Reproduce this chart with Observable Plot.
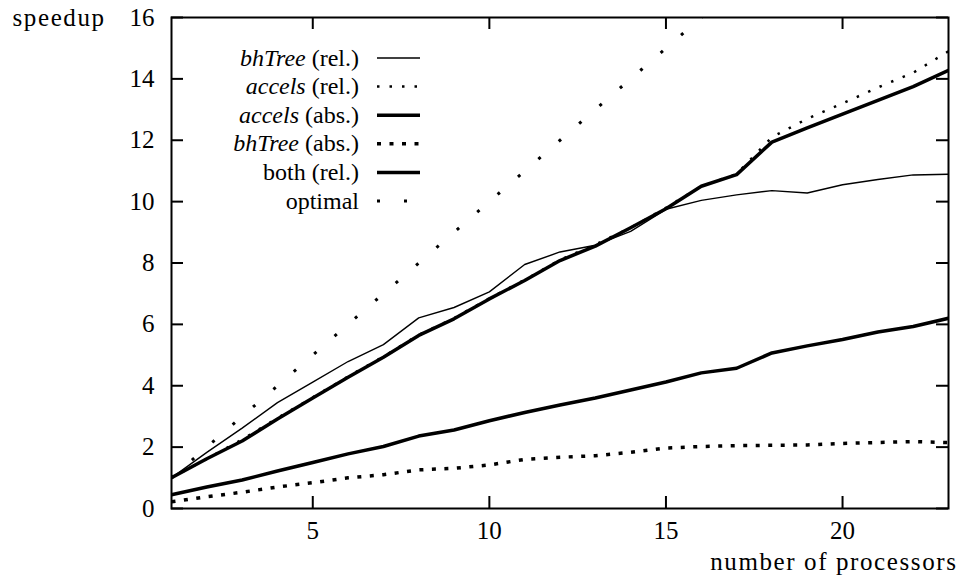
<!DOCTYPE html>
<html><head><meta charset="utf-8">
<script src="https://cdn.jsdelivr.net/npm/d3@7"></script>
<script src="https://cdn.jsdelivr.net/npm/@observablehq/plot@0.6"></script>
<style>
html,body{margin:0;padding:0;background:#fff;}
#wrap{position:relative;width:959px;height:577px;}
#legend{position:absolute;left:0;top:0;pointer-events:none;}
svg text{font-family:"Liberation Serif","DejaVu Serif","Times New Roman",Times,serif !important;}
</style></head><body><div id="wrap"></div>
<script>
const procs     = [1,2,3,4,5,6,7,8,9,10,11,12,13,14,15,16,17,18,19,20,21,22,23];
const bhTreeRel = [1,1.83,2.62,3.45,4.12,4.79,5.34,6.21,6.55,7.06,7.95,8.36,8.58,9.03,9.75,10.04,10.22,10.36,10.28,10.55,10.72,10.87,10.89];
const accelsRel = [1,1.62,2.25,2.95,3.62,4.3,4.95,5.66,6.2,6.85,7.45,8.1,8.6,9.15,9.8,10.5,10.9,12.1,12.7,13.2,13.72,14.2,14.9];
const accelsAbs = [0.45,0.7,0.93,1.22,1.5,1.78,2.02,2.36,2.56,2.86,3.13,3.37,3.6,3.86,4.12,4.42,4.57,5.07,5.3,5.51,5.75,5.93,6.2];
const bhTreeAbs = [0.22,0.38,0.53,0.7,0.84,1.0,1.1,1.26,1.31,1.42,1.6,1.67,1.72,1.83,1.97,2.02,2.05,2.06,2.07,2.12,2.15,2.18,2.15];
const bothRel   = [1,1.62,2.2,2.92,3.6,4.28,4.93,5.64,6.18,6.83,7.43,8.08,8.55,9.15,9.77,10.5,10.88,11.94,12.4,12.85,13.3,13.75,14.28];
const optimal   = [1,2,3,4,5,6,7,8,9,10,11,12,13,14,15,16,17,18,19,20,21,22,23];
const xTicks = [5,10,15,20];
const yTicks = [0,2,4,6,8,10,12,14,16];
const yLabel = "speedup";
const xLabel = "number of processors";
const legendItems = [
  {it:"bhTree", rest:" (rel.)", key:"bhTreeRel"},
  {it:"accels", rest:" (rel.)", key:"accelsRel"},
  {it:"accels", rest:" (abs.)", key:"accelsAbs"},
  {it:"bhTree", rest:" (abs.)", key:"bhTreeAbs"},
  {it:"", rest:"both (rel.)", key:"bothRel"},
  {it:"", rest:"optimal", key:"optimal"}
];

const W=959,H=577,mL=171,mR=11,mT=17,mB=69;
const pw=W-mL-mR, ph=H-mT-mB;
const FONT='"Liberation Serif","DejaVu Serif","Times New Roman",Times,serif';
const styles = {
  bhTreeRel:{strokeWidth:1.4},
  accelsRel:{strokeWidth:2.5,strokeDasharray:"2.5,10",strokeLinecap:"butt"},
  accelsAbs:{strokeWidth:3.5},
  bhTreeAbs:{strokeWidth:3.5,strokeDasharray:"4,8.5",strokeLinecap:"butt"},
  bothRel:{strokeWidth:3.5},
  optimal:{strokeWidth:3,strokeDasharray:"3,24",strokeLinecap:"butt"}
};
const seriesData = {bhTreeRel,accelsRel,accelsAbs,bhTreeAbs,bothRel,optimal};
const rows = vals => procs.map((p,i)=>({p, v:vals[i]}));
const order = ["bhTreeRel","accelsRel","accelsAbs","bhTreeAbs","bothRel","optimal"];

const chart = Plot.plot({
  width:W, height:H, marginLeft:mL, marginRight:mR, marginTop:mT, marginBottom:mB,
  x:{domain:[1,23]}, y:{domain:[0,16]},
  style:{fontFamily:FONT, fontSize:"25px", background:"#fff", color:"#000"},
  marks:[
    ...order.map(k => Plot.line(rows(seriesData[k]), {x:"p", y:"v", stroke:"#000", clip:true, ...styles[k]})),
    Plot.ruleY(yTicks, {y:d=>d, insetRight:pw-12, strokeWidth:2}),
    Plot.ruleY(yTicks, {y:d=>d, insetLeft:pw-12, strokeWidth:2}),
    Plot.ruleX(xTicks, {x:d=>d, insetTop:ph-12, strokeWidth:2}),
    Plot.ruleX(xTicks, {x:d=>d, insetBottom:ph-12, strokeWidth:2}),
    Plot.frame({strokeWidth:2}),
    Plot.axisX({ticks:xTicks, tickSize:0, tickPadding:13, fontSize:25, label:null}),
    Plot.axisY({ticks:yTicks, tickSize:0, tickPadding:17, fontSize:25, label:null}),
    Plot.text([yLabel], {frameAnchor:"top-left", text:d=>d, dx:-159, textAnchor:"start", lineAnchor:"middle", fontSize:25}),
    Plot.text([xLabel], {frameAnchor:"bottom-right", text:d=>d, dx:9, dy:53, textAnchor:"end", lineAnchor:"middle", fontSize:25})
  ]
});
document.getElementById("wrap").appendChild(chart);
d3.select(chart).selectAll("text").filter(function(){ const s=this.textContent; return s===yLabel || s===xLabel; })
  .style("letter-spacing","1.6px");

// legend overlay
const lg = d3.select("#wrap").append("svg").attr("id","legend").attr("width",W).attr("height",H);
legendItems.forEach((d,i)=>{
  const y = 58 + i*28.6;
  const t = lg.append("text").attr("x",359).attr("y",y).attr("dy","0.32em")
    .attr("text-anchor","end").attr("font-family",FONT).attr("font-size",24);
  if (d.it) t.append("tspan").attr("font-style","italic").text(d.it);
  t.append("tspan").text(d.rest);
  const s = styles[d.key];
  lg.append("line").attr("x1",377).attr("x2",420).attr("y1",y).attr("y2",y)
    .attr("stroke","#000").attr("stroke-width",s.strokeWidth)
    .attr("stroke-dasharray",s.strokeDasharray||null)
    .attr("stroke-linecap",s.strokeLinecap||"butt");
});
</script></body></html>
